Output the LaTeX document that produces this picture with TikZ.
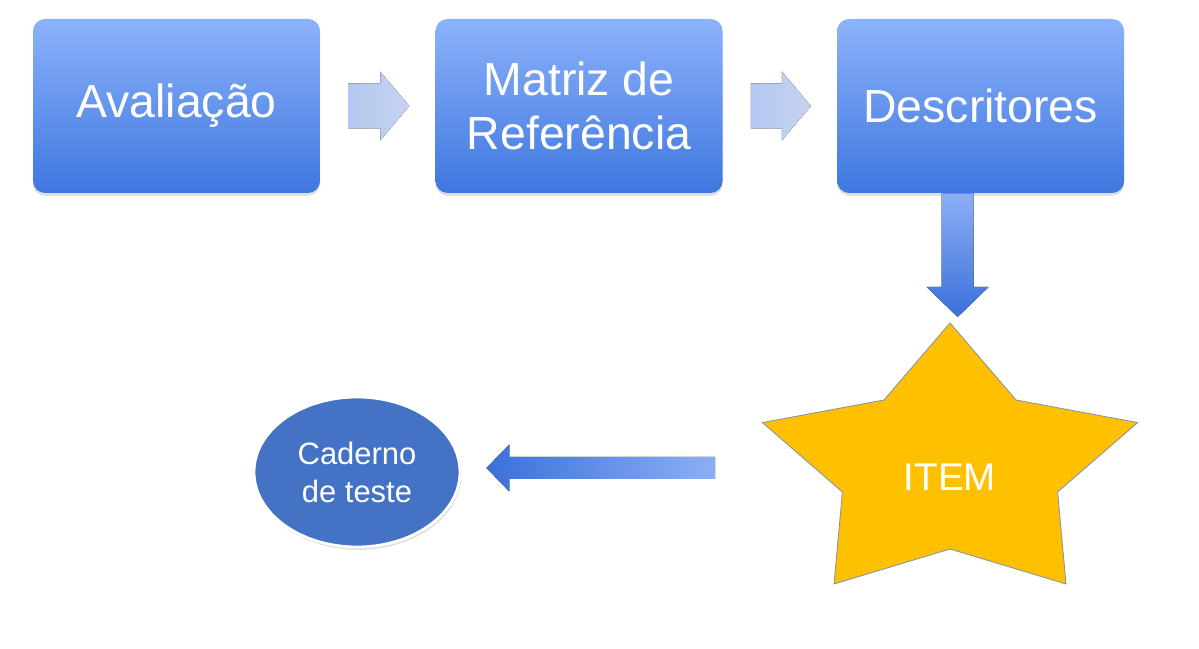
\documentclass[tikz,border=0pt]{standalone}
\usepackage{fontspec}
\setmainfont{Liberation Sans}
\usetikzlibrary{positioning, calc, shapes.geometric, shadows, backgrounds}

\definecolor{boxtop}{HTML}{8CB2FA}
\definecolor{boxbot}{HTML}{3E77DF}
\definecolor{paleleft}{HTML}{B5C8F1}
\definecolor{paleright}{HTML}{C6D3EF}
\definecolor{deepblue}{HTML}{3A70DA}
\definecolor{lightblue}{HTML}{8BAFF5}
\definecolor{cadfill}{HTML}{4472C4}
\definecolor{starfill}{HTML}{FFC000}
\definecolor{starline}{HTML}{8492A8}

\begin{document}
\begin{tikzpicture}[
  box/.style = {rounded corners=0.3cm, minimum width=7.175cm, minimum height=4.35cm,
    top color=boxtop, bottom color=boxbot, text=white, align=center,
    font=\fontsize{33}{38}\selectfont,
    drop shadow={opacity=0.25, shadow xshift=0pt, shadow yshift=-2pt}},
  oval/.style = {ellipse, draw=white, line width=2pt, fill=cadfill, text=white,
    minimum width=5.15cm, minimum height=3.75cm, inner sep=0pt, align=center,
    font=\fontsize{22}{27}\selectfont,
    drop shadow={opacity=0.25, shadow xshift=1pt, shadow yshift=-2pt}},
  paleflow/.style = {left color=paleleft, right color=paleright},
  node distance=2.85cm
]
  \useasboundingbox (0,0) rectangle (29.975,16.2);

  % top row
  \node[box] (av) at (4.4125,13.55) {Avaliação};
  \node[box, right=2.875cm of av] (mr) {Matriz de\\Referência};
  \node[box, right=of mr] (ds) {Descritores};

  % star and notebook
  \node[text=white, font=\fontsize{27.5}{30}\selectfont] (item) at (23.75,4.275) {ITEM};
  \node[oval] (cad) at (8.925,4.4) {Caderno\\de teste};

  \begin{scope}[on background layer]
    \draw[fill=starfill, draw=starline, line width=0.6pt, shift={(item.center)}]
      (0,3.85) -- (1.65,1.925) -- (4.69,1.36) -- (2.69,-0.375) -- (2.9,-2.675)
      -- (0,-1.8) -- (-2.9,-2.675) -- (-2.69,-0.375) -- (-4.69,1.36)
      -- (-1.65,1.925) -- cycle;
  \end{scope}

  % arrows along the top row
  \foreach \a/\b in {av/mr, mr/ds}
    \fill[paleflow] ($(\a.east)+(0.7,-0.5625)$) -- ($(\a.east)+(0.7,0.5625)$)
      -- ($(\b.west)+(-1.375,0.5625)$) -- ($(\b.west)+(-1.375,0.8625)$)
      -- ($(\b.west)+(-0.65,0)$) -- ($(\b.west)+(-1.375,-0.8625)$)
      -- ($(\b.west)+(-1.375,-0.5625)$) -- cycle;

  % descritores down to the star
  \coordinate (dtop) at ($(ds.south)+(-0.575,0)$);
  \coordinate (dtip) at ($(dtop |- item.center)+(0,4.0)$);
  \fill[top color=lightblue, bottom color=deepblue]
    ($(dtop)+(-0.4,0)$) -- ($(dtop)+(0.4,0)$) -- ($(dtip)+(0.4,0.75)$)
    -- ($(dtip)+(0.775,0.75)$) -- (dtip) -- ($(dtip)+(-0.775,0.75)$)
    -- ($(dtip)+(-0.4,0.75)$) -- cycle;

  % star back to the notebook
  \coordinate (ltail) at ($(item.center)+(-5.875,0.225)$);
  \coordinate (ltip) at ($(cad.east |- ltail)+(0.625,0)$);
  \fill[left color=deepblue, right color=lightblue]
    ($(ltail)+(0,0.275)$) -- ($(ltip)+(0.575,0.275)$) -- ($(ltip)+(0.575,0.5875)$)
    -- (ltip) -- ($(ltip)+(0.575,-0.5875)$) -- ($(ltip)+(0.575,-0.275)$)
    -- ($(ltail)+(0,-0.275)$) -- cycle;

\end{tikzpicture}
\end{document}
